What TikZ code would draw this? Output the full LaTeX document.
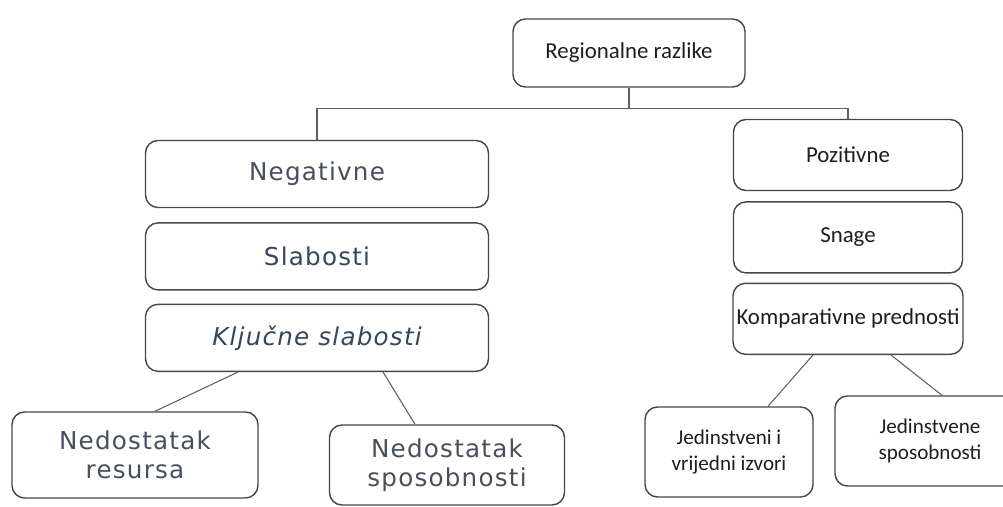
\documentclass[tikz,border=0pt]{standalone}
\usepackage{fontspec}
\setmainfont{Carlito}
\newfontfamily\wideface[LetterSpace=5]{DejaVu Sans}
\usepackage{xcolor}
\usepackage{tikz}
\usetikzlibrary{positioning,calc}

\definecolor{boxline}{HTML}{474747}
\definecolor{linkgray}{HTML}{5E5E5E}
\definecolor{slate}{HTML}{46505C}
\definecolor{slateblue}{HTML}{33485F}
\definecolor{inkblack}{HTML}{1E1E1E}

\begin{document}
\begin{tikzpicture}[
  node distance=0.26cm,
  every node/.style={font=\fontsize{13}{16}\selectfont},
  item/.style={draw=boxline, line width=0.8pt, rounded corners=0.25cm,
    fill=white, align=center, inner sep=2pt},
  negbox/.style={item, minimum width=6.86cm, minimum height=1.34cm,
    text=slate, font=\wideface\fontsize{14}{17}\selectfont},
  leafneg/.style={item, minimum width=4.8cm, minimum height=1.66cm,
    text=slate, font=\wideface\fontsize{14}{16.5}\selectfont},
  posbox/.style={item, minimum width=4.58cm, minimum height=1.42cm,
    text=inkblack, font=\fontsize{13}{16}\selectfont},
  leafpos/.style={item, minimum width=3.36cm, minimum height=1.8cm,
    text=inkblack, font=\fontsize{12}{15}\selectfont},
  link/.style={draw=linkgray, line width=0.6pt},
]
\useasboundingbox (0,0) rectangle (20.06,-10.14);

% top
\node[posbox, minimum width=4.64cm, minimum height=1.36cm] (reg) at (12.58,-1.06) {Regionalne razlike};

% left branch
\node[negbox] (neg) at (6.34,-3.48) {Negativne};
\node[negbox, below=0.28cm of neg, text=slateblue] (sla) {Slabosti};
\node[negbox, below=0.26cm of sla, text=slateblue,
  font=\wideface\itshape\fontsize{14}{17}\selectfont] (klj) {Ključne slabosti};
\node[leafneg, minimum width=4.92cm, minimum height=1.72cm] (res) at (2.70,-9.10) {Nedostatak\\resursa};
\node[leafneg, minimum width=4.70cm, minimum height=1.60cm] (spo) at (8.94,-9.30) {Nedostatak\\sposobnosti};

% right branch
\node[posbox] (poz) at (16.96,-3.10) {Pozitivne};
\node[posbox, below=0.2cm of poz] (sna) {Snage};
\node[posbox, below=0.18cm of sna] (kom) {Komparativne prednosti};
\node[leafpos] (izv) at (14.58,-9.04) {Jedinstveni i\\vrijedni izvori};
\node[leafpos, minimum width=3.8cm] (jsp) at (18.6,-8.82) {Jedinstvene\\sposobnosti};

% connectors
\coordinate (bus) at ($(reg.south)+(0,-0.42)$);
\draw[link] (reg.south) -- (bus);
\draw[link] (bus) -| (neg.north);
\draw[link] (bus) -| (poz.north);
\draw[link] ($(klj.south)+(-1.58,0)$) -- ($(res.north)+(0.4,0)$);
\draw[link] ($(klj.south)+(1.32,0)$) -- ($(spo.north)+(-0.64,0)$);
\draw[link] ($(kom.south)+(-0.7,0)$) -- ($(izv.north)+(0.78,0)$);
\draw[link] ($(kom.south)+(0.86,0)$) -- ($(jsp.north)+(0.24,0)$);
\end{tikzpicture}
\end{document}
